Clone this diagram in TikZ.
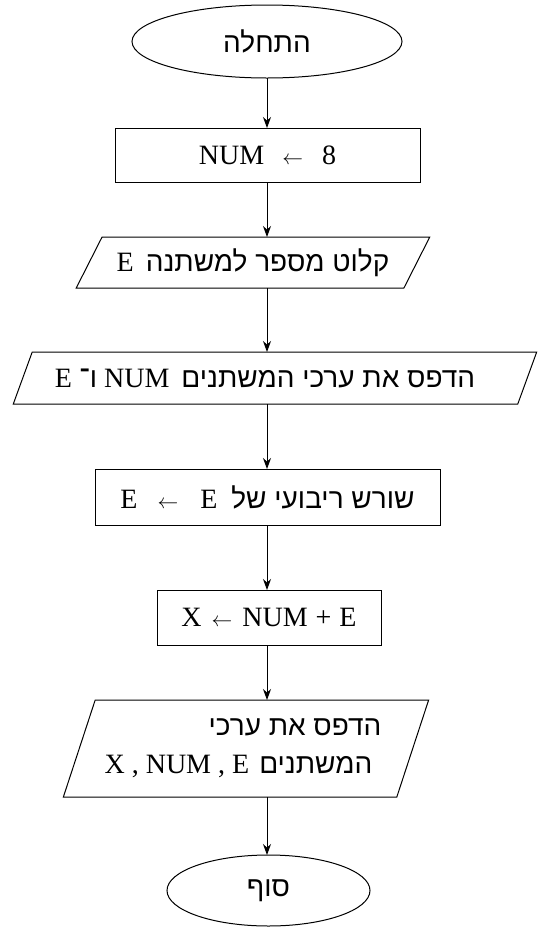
\documentclass[tikz,border=0pt]{standalone}
\usepackage{fontspec}
\setmainfont{Liberation Serif}
\newfontfamily\heb[Script=Hebrew]{Liberation Sans}
\TeXXeTstate=1
\usetikzlibrary{shapes.geometric,arrows.meta}
\newcommand\arrowl{{\fontsize{20}{20}\selectfont$\leftarrow$}}
\begin{document}
\begin{tikzpicture}[x=1pt,y=-1pt,
  base/.style={draw=black, line width=1pt, inner sep=0pt, outer sep=0pt,
    font=\fontsize{28}{38}\selectfont},
  term/.style={base, ellipse},
  proc/.style={base, rectangle},
  io/.style={base, trapezium, trapezium stretches=true},
  arr/.style={-{Stealth[length=11pt,width=8pt]}, line width=0.9pt}]
\useasboundingbox (0,0) rectangle (541,927);

\node[term, minimum width=270pt, minimum height=73pt] (start) at (267,41.5)
  {\heb\beginR התחלה\endR};

\node[proc, minimum width=305pt, minimum height=54pt] (b1) at (267.5,155)
  {NUM\hspace{18pt}\arrowl\hspace{19pt}8};

\node[io, trapezium left angle=50.2, trapezium right angle=129.8,
  minimum width=354pt, minimum height=51pt] (p1) at (253,262.5)
  {E\hspace{12pt}{\heb\beginR קלוט מספר למשתנה\endR}};

\node[io, trapezium left angle=47.9, trapezium right angle=132.1,
  minimum width=524pt, minimum height=52pt] (p2) at (275,378)
  {E {\heb\beginR ו־\endR} NUM\hspace{12pt}{\heb\beginR הדפס את ערכי המשתנים\endR}\hspace*{20pt}};

\node[proc, minimum width=345pt, minimum height=56pt] (b2) at (267.5,497)
  {E\hspace{20pt}\arrowl\hspace{22pt}E\hspace{14pt}{\heb\beginR שורש ריבועי של\endR}};

\node[proc, minimum width=224pt, minimum height=55pt] (b3) at (269,617.5)
  {X\hspace{10pt}\arrowl\hspace{10pt}NUM\hspace{8pt}+\hspace{8pt}E};

\node[io, trapezium left angle=63.2, trapezium right angle=116.8,
  minimum width=366pt, minimum height=97pt, align=right] (p3) at (246,748.5)
  {{\heb\beginR הדפס את ערכי\endR}\hspace*{6pt}\\
   X , NUM , E\hspace{10pt}{\heb\beginR המשתנים\endR}\hspace*{15pt}};

\node[term, minimum width=203pt, minimum height=71pt] (end) at (268.5,890.5)
  {\heb\beginR סוף\endR};

\draw[arr] (start.south) -- (start.south |- b1.north);
\draw[arr] (b1.south -| start.south) -- (p1.north -| start.south);
\draw[arr] (p1.south -| start.south) -- (p2.north -| start.south);
\draw[arr] (p2.south -| start.south) -- (b2.north -| start.south);
\draw[arr] (b2.south -| start.south) -- (b3.north -| start.south);
\draw[arr] (b3.south -| start.south) -- (p3.north -| start.south);
\draw[arr] (p3.south -| start.south) -- (end.north -| start.south);
\end{tikzpicture}
\end{document}
